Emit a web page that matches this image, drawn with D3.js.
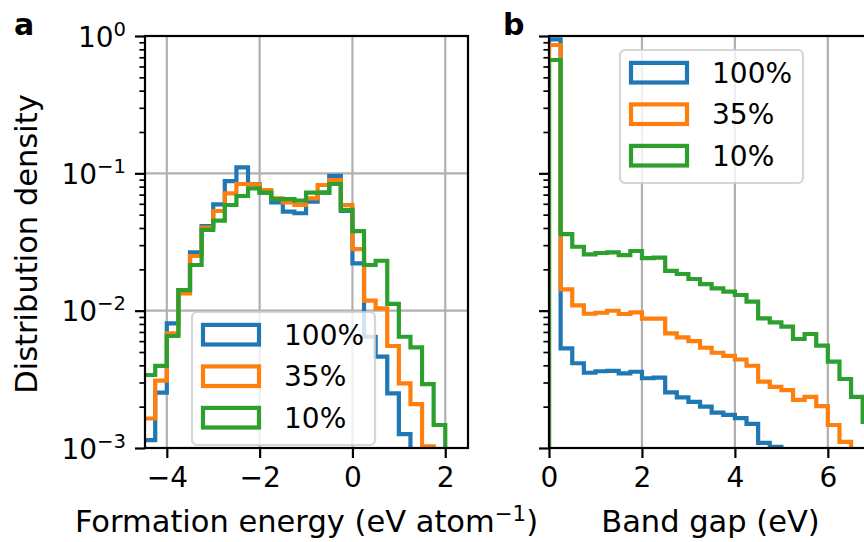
<!DOCTYPE html>
<html><head><meta charset="utf-8">
<script src="https://cdn.jsdelivr.net/npm/d3@7"></script>
<style>
body{margin:0;background:#fff}
svg{display:block}
text{font-family:"DejaVu Sans",sans-serif;fill:#000}
</style>
</head><body>
<svg id="chart" width="864" height="542"></svg>
<script>
// ---------- data ----------
const seriesNames = ["100%", "35%", "10%"];
const seriesColors = ["#1f77b4", "#ff7f0e", "#2ca02c"];
const binWidth = 0.25;

// Panel a: formation energy, bins of 0.25 eV/atom starting at -4.5
const feStart = -4.5;
const fe100 = [0.00114, 0.00253, 0.00809, 0.0141, 0.0266, 0.0413, 0.0595, 0.0879, 0.1106, 0.0836, 0.0723, 0.0615, 0.0526, 0.0512, 0.0621, 0.0723, 0.0957, 0.0532, 0.0221, 0.00646, 0.00462, 0.0025, 0.00126, 0, 0, 0, 0];
const fe35  = [0.00164, 0.00309, 0.00684, 0.01337, 0.0250, 0.0402, 0.0532, 0.0715, 0.0836, 0.0832, 0.0756, 0.0658, 0.0615, 0.0588, 0.0658, 0.0822, 0.0894, 0.0588, 0.0281, 0.01183, 0.0104, 0.00553, 0.00296, 0.00209, 0.00103, 0, 0];
const fe10  = [0.0034, 0.00396, 0.00654, 0.0141, 0.0215, 0.0387, 0.0452, 0.0588, 0.0684, 0.0778, 0.0723, 0.0650, 0.0650, 0.0632, 0.0723, 0.0723, 0.0836, 0.0541, 0.0380, 0.0215, 0.0231, 0.0112, 0.00646, 0.0054, 0.00292, 0.00147, 0];

// Panel b: band gap, bins of 0.25 eV starting at 0
const bgStart = 0;
const bg100 = [0.946, 0.00532, 0.00414, 0.00353, 0.00362, 0.00365, 0.00350, 0.00359, 0.00322, 0.00325, 0.00254, 0.00234, 0.00217, 0.00200, 0.00181, 0.00174, 0.00165, 0.00150, 0.00109, 0.00102, 0, 0, 0, 0, 0, 0, 0, 0];
const bg35  = [0.860, 0.01430, 0.01094, 0.00950, 0.00966, 0.00999, 0.00946, 0.00973, 0.00874, 0.00874, 0.00684, 0.00640, 0.00601, 0.00537, 0.00494, 0.00468, 0.00441, 0.00397, 0.00304, 0.00279, 0.00264, 0.00224, 0.00236, 0.00202, 0.00147, 0.00111, 0, 0];
const bg10  = [0.669, 0.0361, 0.0292, 0.0257, 0.0263, 0.0266, 0.0254, 0.0272, 0.0241, 0.0243, 0.0195, 0.0185, 0.0170, 0.0156, 0.01455, 0.01374, 0.0130, 0.01162, 0.00880, 0.00823, 0.00764, 0.00622, 0.00676, 0.00556, 0.00425, 0.00318, 0.00236, 0.00155];

const xTicksA = [-4, -2, 0, 2];
const xTicksB = [0, 2, 4, 6];
const yTicks = [1e-3, 1e-2, 1e-1, 1];
const yTickExponents = ["−3", "−2", "−1", "0"];
const xDomainA = [-4.47, 2.49];
const xDomainB = [0, 6.95];
const yDomain = [1e-3, 1];

// ---------- layout ----------
const svg = d3.select("#chart");
const plotTop = 36, plotBottom = 448;
const panels = [
  {id: "a", left: 145, right: 468, domain: xDomainA, ticks: xTicksA, start: feStart,
   series: [fe100, fe35, fe10], ygrid: true, ylabels: true,
   legend: {x: 192, y: 312}, letterX: 14},
  {id: "b", left: 549, right: 872, domain: xDomainB, ticks: xTicksB, start: bgStart,
   series: [bg100, bg35, bg10], ygrid: false, ylabels: false,
   legend: {x: 620, y: 50}, letterX: 503}
];
const FS = 28, LFS = 30.5;
const lineW = 4.2, spineW = 2.2, gridW = 2.2;
const y = d3.scaleLog().domain(yDomain).range([plotBottom, plotTop]);
const minorTicks = [];
for (let e = -3; e < 0; e++) for (let m = 2; m <= 9; m++) minorTicks.push(m * Math.pow(10, e));

panels.forEach(p => {
  const x = d3.scaleLinear().domain(p.domain).range([p.left, p.right]);
  const g = svg.append("g");
  const clipId = "clip-" + p.id;
  svg.append("defs").append("clipPath").attr("id", clipId)
    .append("rect").attr("x", p.left).attr("y", plotTop)
    .attr("width", p.right - p.left).attr("height", plotBottom - plotTop);

  // grid
  const grid = g.append("g").attr("clip-path", `url(#${clipId})`);
  grid.selectAll("line.gx").data(p.ticks).join("line")
    .attr("x1", d => x(d)).attr("x2", d => x(d)).attr("y1", plotTop).attr("y2", plotBottom)
    .attr("stroke", "#b0b0b0").attr("stroke-width", gridW);
  if (p.ygrid) {
    grid.selectAll("line.gy").data(yTicks).join("line")
      .attr("x1", p.left).attr("x2", p.right).attr("y1", d => y(d)).attr("y2", d => y(d))
      .attr("stroke", "#b0b0b0").attr("stroke-width", gridW);
  }

  // step histograms
  const floor = 1e-6;
  const line = d3.line().x(d => x(d[0])).y(d => y(Math.max(d[1], floor)));
  const lines = g.append("g").attr("clip-path", `url(#${clipId})`);
  p.series.forEach((vals, si) => {
    const pts = [[p.start, floor]];
    vals.forEach((v, i) => {
      pts.push([p.start + i * binWidth, v]);
      pts.push([p.start + (i + 1) * binWidth, v]);
    });
    pts.push([p.start + vals.length * binWidth, floor]);
    lines.append("path").attr("d", line(pts)).attr("fill", "none")
      .attr("stroke", seriesColors[si]).attr("stroke-width", lineW)
      .attr("stroke-linejoin", "miter");
  });

  // x axis
  const xa = g.append("g").attr("transform", `translate(0,${plotBottom})`)
    .call(d3.axisBottom(x).tickValues(p.ticks).tickSize(10).tickPadding(9)
      .tickFormat(d => (d < 0 ? "−" : "") + Math.abs(d)));
  xa.select(".domain").remove();
  xa.selectAll(".tick line").attr("stroke", "#000").attr("stroke-width", spineW);
  xa.selectAll(".tick text").attr("font-size", FS).attr("font-family", "DejaVu Sans");

  // y axis minor
  const ymn = g.append("g").attr("transform", `translate(${p.left},0)`)
    .call(d3.axisLeft(y).tickValues(minorTicks).tickSize(5.6).tickFormat(""));
  ymn.select(".domain").remove();
  ymn.selectAll(".tick line").attr("stroke", "#000").attr("stroke-width", 1.7);
  // y axis major
  const ya = g.append("g").attr("transform", `translate(${p.left},0)`)
    .call(d3.axisLeft(y).tickValues(yTicks).tickSize(10).tickPadding(9).tickFormat(""));
  ya.select(".domain").remove();
  ya.selectAll(".tick line").attr("stroke", "#000").attr("stroke-width", spineW);
  if (p.ylabels) {
    ya.selectAll(".tick text").each(function(d) {
      const t = d3.select(this).attr("font-size", FS).attr("font-family", "DejaVu Sans")
        .attr("dy", "0.36em").text("10");
      t.append("tspan").attr("dy", "-0.55em").attr("font-size", FS * 0.7)
        .text(yTickExponents[yTicks.indexOf(d)]);
    });
  } else {
    ya.selectAll(".tick text").remove();
  }

  // spines
  g.append("rect").attr("x", p.left).attr("y", plotTop)
    .attr("width", p.right - p.left).attr("height", plotBottom - plotTop)
    .attr("fill", "none").attr("stroke", "#000").attr("stroke-width", spineW);

  // legend
  const lg = g.append("g").attr("transform", `translate(${p.legend.x},${p.legend.y})`);
  lg.append("rect").attr("width", 183).attr("height", 133).attr("rx", 5)
    .attr("fill", "rgba(255,255,255,0.8)").attr("stroke", "rgba(204,204,204,0.8)").attr("stroke-width", 2.2);
  seriesNames.forEach((nm, i) => {
    const cy = 22.7 + i * 41.5;
    lg.append("rect").attr("x", 11).attr("y", cy - 9.8).attr("width", 56).attr("height", 19.6)
      .attr("fill", "none").attr("stroke", seriesColors[i]).attr("stroke-width", lineW);
    lg.append("text").attr("x", 92).attr("y", cy).attr("dy", "0.36em")
      .attr("font-size", FS).text(nm);
  });

  // panel letter
  svg.append("text").attr("x", p.letterX).attr("y", 35).attr("font-size", 30)
    .attr("font-weight", "bold").text(p.id);
});

// axis labels
svg.append("text").attr("transform", "translate(37,244) rotate(-90)")
  .attr("text-anchor", "middle").attr("font-size", LFS).text("Distribution density");
const xl = svg.append("text").attr("x", 306.5).attr("y", 532).attr("text-anchor", "middle").attr("font-size", LFS);
xl.append("tspan").text("Formation energy (eV atom");
xl.append("tspan").attr("dy", "-0.5em").attr("font-size", LFS * 0.7).text("−1");
xl.append("tspan").attr("dy", "0.35em").text(")");
svg.append("text").attr("x", 710.5).attr("y", 532).attr("text-anchor", "middle").attr("font-size", LFS).text("Band gap (eV)");
</script>
</body></html>
